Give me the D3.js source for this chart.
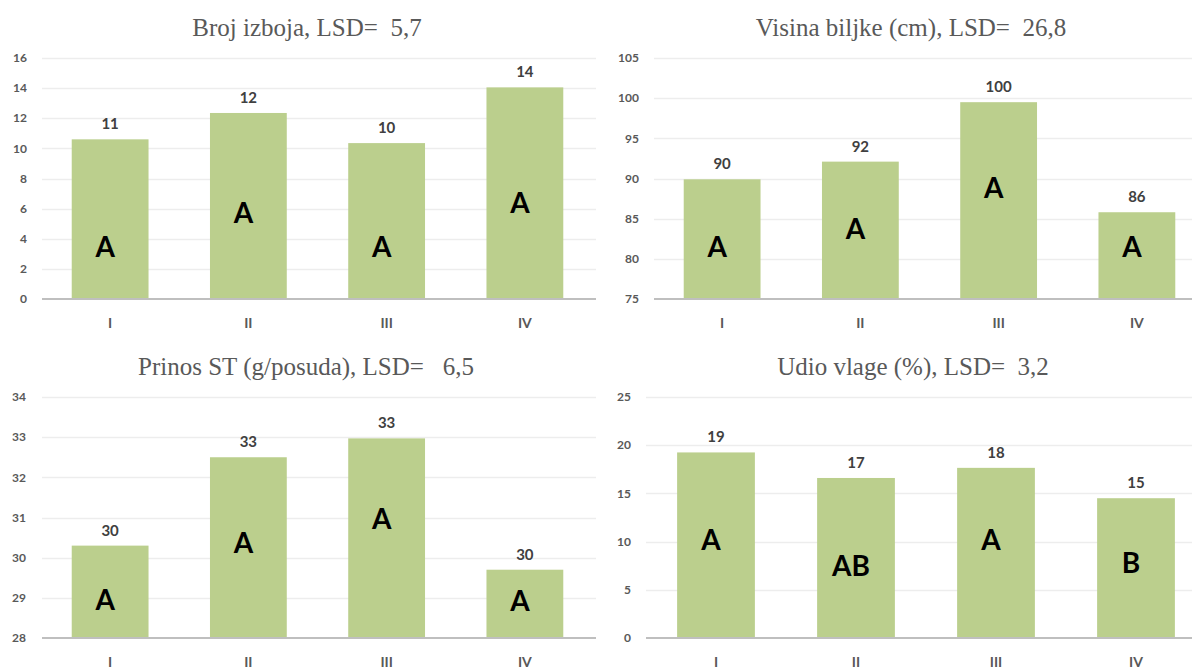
<!DOCTYPE html>
<html>
<head>
<meta charset="utf-8">
<script src="https://cdn.jsdelivr.net/npm/d3@7"></script>
<style>
  body { margin: 0; background: #fff; }
  svg { display: block; }
</style>
</head>
<body>
<div id="chart"></div>
<script>
const WIDTH = 1192;
const HEIGHT = 669;

// data
const categories = ['I', 'II', 'III', 'IV'];

const titles = [
  'Broj izboja, LSD=\u00a0\u00a05,7',
  'Visina biljke (cm), LSD=\u00a0\u00a026,8',
  'Prinos ST (g/posuda), LSD=\u00a0\u00a0\u00a06,5',
  'Udio vlage (%), LSD=\u00a0\u00a03,2'
];

const brojIzboja = [10.6, 12.35, 10.35, 14.05];
const visinaBiljke = [89.9, 92.1, 99.5, 85.8];
const prinosST = [30.3, 32.5, 32.97, 29.7];
const udioVlage = [19.25, 16.6, 17.65, 14.5];

// significance letters and the value level they sit at
const letters1 = ['A', 'A', 'A', 'A'];
const letters2 = ['A', 'A', 'A', 'A'];
const letters3 = ['A', 'A', 'A', 'A'];
const letters4 = ['A', 'AB', 'A', 'B'];
const letterAt1 = [3.45, 5.7, 3.45, 6.4];
const letterAt2 = [81.5, 83.7, 88.8, 81.5];
const letterAt3 = [28.95, 30.36, 30.96, 28.92];
const letterAt4 = [10.2, 7.5, 10.2, 7.8];

const yDomains = [[0, 16], [75, 105], [28, 34], [0, 25]];
const yTicks = [
  [0, 2, 4, 6, 8, 10, 12, 14, 16],
  [75, 80, 85, 90, 95, 100, 105],
  [28, 29, 30, 31, 32, 33, 34],
  [0, 5, 10, 15, 20, 25]
];

const panels = [
  { values: brojIzboja, letters: letters1, letterAt: letterAt1, x0: 41, x1: 594, gx0: 42, gx1: 596, top: 58, bottom: 299, titleX: 307, titleY: 36, tickX: 27 },
  { values: visinaBiljke, letters: letters2, letterAt: letterAt2, x0: 653, x1: 1206, gx0: 654, gx1: 1192, top: 58, bottom: 299, titleX: 911, titleY: 36, tickX: 639 },
  { values: prinosST, letters: letters3, letterAt: letterAt3, x0: 41, x1: 594, gx0: 42, gx1: 596, top: 397, bottom: 638, titleX: 306, titleY: 375, tickX: 26 },
  { values: udioVlage, letters: letters4, letterAt: letterAt4, x0: 646, x1: 1206, gx0: 646, gx1: 1192, top: 397, bottom: 638, titleX: 913, titleY: 375, tickX: 631 }
];

const svg = d3.select('#chart')
  .append('svg')
    .attr('width', WIDTH)
    .attr('height', HEIGHT);

panels.forEach((p, i) => {
  const g = svg.append('g');

  // Excel-style gap width 80%
  const x = d3.scaleBand()
    .domain(categories)
    .range([p.x0, p.x1])
    .paddingInner(0.8 / 1.8)
    .paddingOuter(0.4 / 1.8);

  const y = d3.scaleLinear()
    .domain(yDomains[i])
    .range([p.bottom, p.top]);

  // gridlines
  g.selectAll('.grid')
    .data(yTicks[i].slice(1))
    .enter()
    .append('line')
      .attr('x1', p.gx0)
      .attr('x2', p.gx1)
      .attr('y1', d => Math.round(y(d)) + 0.5)
      .attr('y2', d => Math.round(y(d)) + 0.5)
      .attr('stroke', '#ededed')
      .attr('stroke-width', 1.5);

  // y tick labels
  g.selectAll('.ytick')
    .data(yTicks[i])
    .enter()
    .append('text')
      .attr('x', p.tickX)
      .attr('y', d => y(d))
      .attr('dy', '0.35em')
      .attr('text-anchor', 'end')
      .attr('font-family', 'Lato, sans-serif')
      .attr('font-weight', 'bold')
      .attr('font-size', 12)
      .attr('fill', '#595959')
      .text(d => d);

  // bars
  g.selectAll('.bar')
    .data(p.values)
    .enter()
    .append('rect')
      .attr('x', (d, j) => x(categories[j]))
      .attr('width', x.bandwidth())
      .attr('y', d => y(d))
      .attr('height', d => y(yDomains[i][0]) - y(d))
      .attr('fill', '#bbcf8d');

  // baseline
  g.append('line')
    .attr('x1', p.gx0)
    .attr('x2', p.gx1)
    .attr('y1', y(yDomains[i][0]))
    .attr('y2', y(yDomains[i][0]))
    .attr('stroke', '#bfbfbf')
    .attr('stroke-width', 2);

  // value labels
  g.selectAll('.val')
    .data(p.values)
    .enter()
    .append('text')
      .attr('x', (d, j) => x(categories[j]) + x.bandwidth() / 2)
      .attr('y', d => y(d) - 10)
      .attr('text-anchor', 'middle')
      .attr('font-family', 'Lato, sans-serif')
      .attr('font-weight', 'bold')
      .attr('font-size', 15)
      .attr('fill', '#404040')
      .text(d => Math.round(d));

  // significance letters
  g.selectAll('.letter')
    .data(p.letters)
    .enter()
    .append('text')
      .attr('x', (d, j) => x(categories[j]) + x.bandwidth() / 2 - 5)
      .attr('y', (d, j) => y(p.letterAt[j]))
      .attr('dy', '0.36em')
      .attr('text-anchor', 'middle')
      .attr('font-family', 'Lato, sans-serif')
      .attr('font-weight', 'bold')
      .attr('font-size', 28)
      .attr('fill', '#000')
      .text(d => d);

  // category labels
  g.selectAll('.xtick')
    .data(categories)
    .enter()
    .append('text')
      .attr('x', d => x(d) + x.bandwidth() / 2)
      .attr('y', p.bottom + 24)
      .attr('dy', '0.35em')
      .attr('text-anchor', 'middle')
      .attr('font-family', 'Lato, sans-serif')
      .attr('font-weight', 'bold')
      .attr('font-size', 14)
      .attr('fill', '#595959')
      .text(d => d);

  // title
  g.append('text')
    .attr('x', p.titleX)
    .attr('y', p.titleY)
    .attr('text-anchor', 'middle')
    .attr('font-family', '"Liberation Serif", serif')
    .attr('font-size', 25)
    .attr('fill', '#595959')
    .text(titles[i]);
});
</script>
</body>
</html>
